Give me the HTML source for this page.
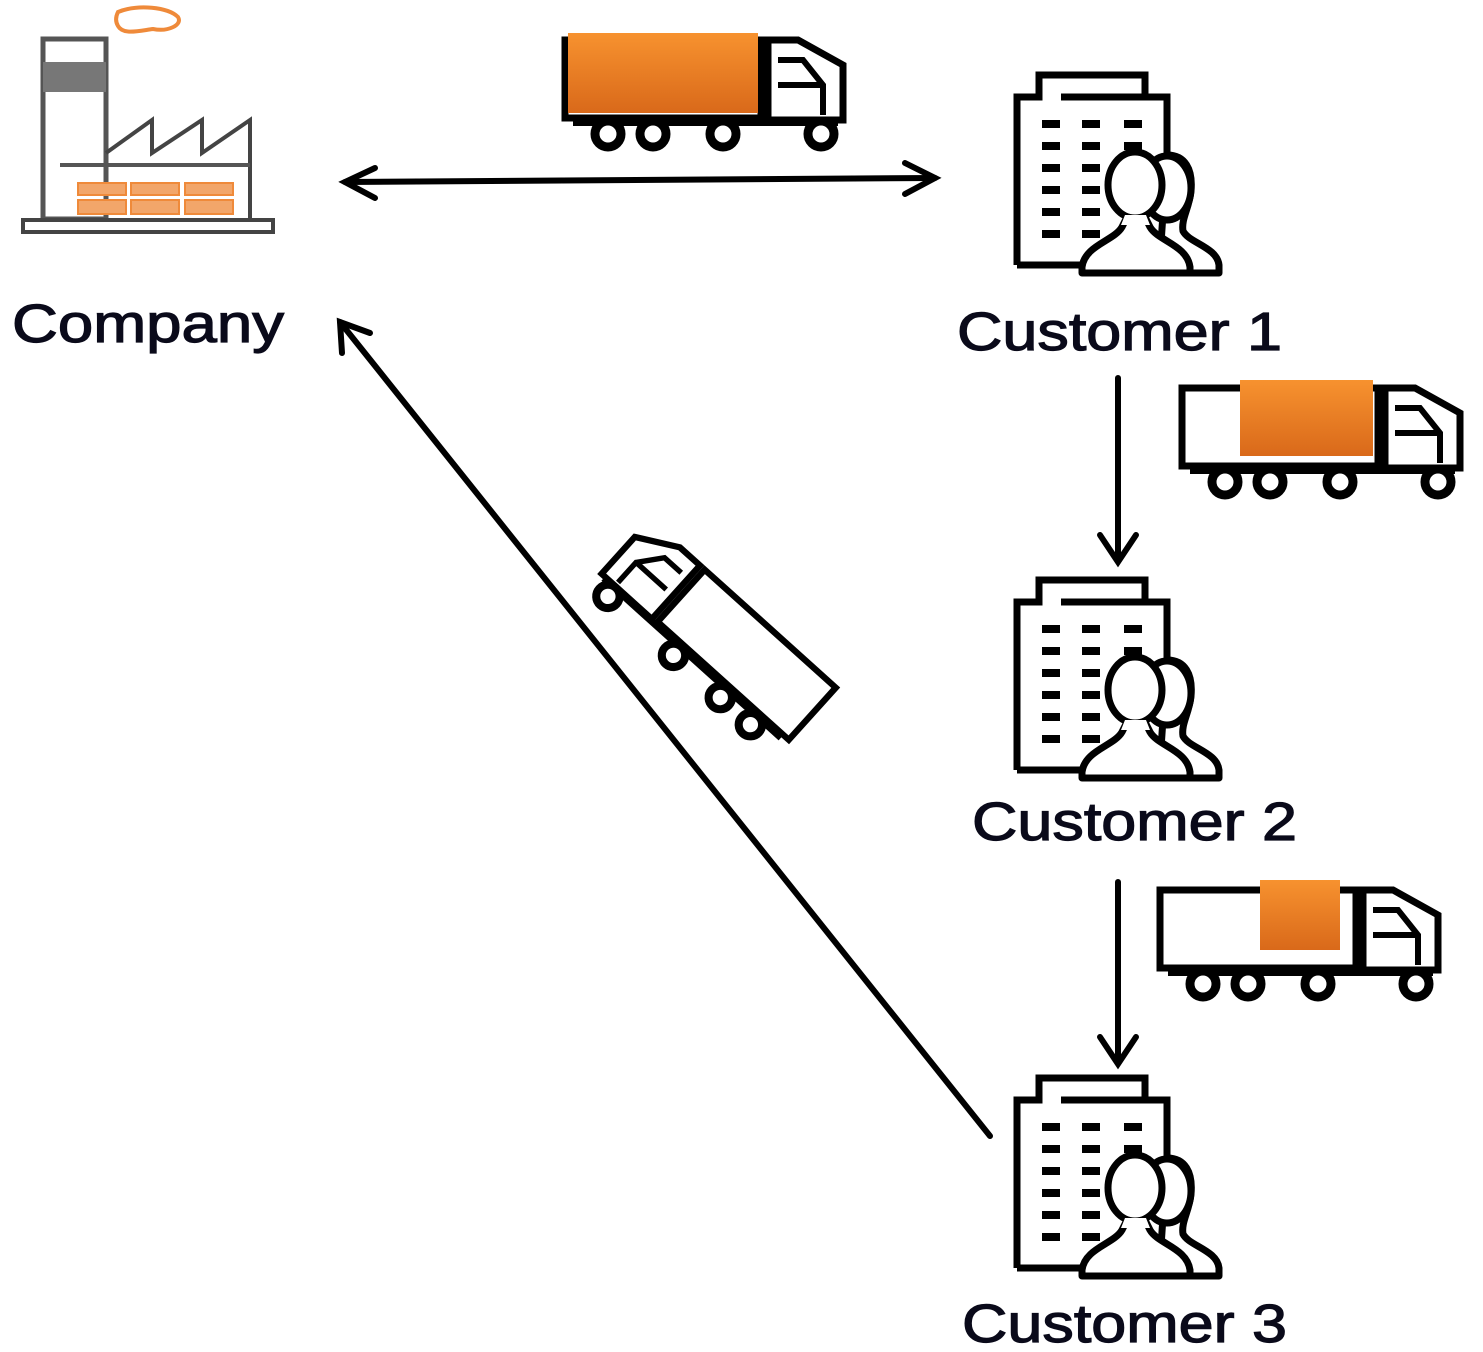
<!DOCTYPE html>
<html><head><style>html,body{margin:0;padding:0;background:#fff}svg{display:block}</style></head><body>
<svg width="1483" height="1352" viewBox="0 0 1483 1352" xmlns="http://www.w3.org/2000/svg">
<defs>
<linearGradient id="og" x1="0" y1="0" x2="0" y2="1"><stop offset="0" stop-color="#f7922f"/><stop offset="1" stop-color="#d9691a"/></linearGradient>
<g id="truckbase">
  <rect x="2" y="10" width="196" height="78" fill="#fff" stroke="#000" stroke-width="7"/>
  <path d="M205 10 h30 l45 25 v55 h-75 z" fill="#fff" stroke="#000" stroke-width="7"/>
  <path d="M215 30 h25 l20 25 v30 M215 55 h45" fill="none" stroke="#000" stroke-width="6"/>
  <rect x="10" y="88" width="265" height="8" fill="#000"/>
  <g fill="#fff" stroke="#000" stroke-width="9">
    <circle cx="45" cy="104" r="13"/><circle cx="90" cy="104" r="13"/><circle cx="160" cy="104" r="13"/><circle cx="258" cy="104" r="13"/>
  </g>
</g>
<g id="cust">
  <path d="M0 190 V22 H22 V0 H128 V22 H150 V175" fill="none" stroke="#000" stroke-width="7"/>
  <path d="M44 22 H128" stroke="#000" stroke-width="7"/>
  <g fill="#000">
    <rect x="25" y="45" width="18" height="8"/><rect x="65" y="45" width="18" height="8"/><rect x="107" y="45" width="18" height="8"/>
    <rect x="25" y="67" width="18" height="8"/><rect x="65" y="67" width="18" height="8"/><rect x="107" y="67" width="18" height="8"/>
    <rect x="25" y="89" width="18" height="8"/><rect x="65" y="89" width="18" height="8"/>
    <rect x="25" y="111" width="18" height="8"/><rect x="65" y="111" width="18" height="8"/>
    <rect x="25" y="133" width="18" height="8"/><rect x="65" y="133" width="18" height="8"/>
    <rect x="25" y="155" width="18" height="8"/><rect x="65" y="155" width="18" height="8"/>
  </g>
  <path d="M0 190 H65" stroke="#000" stroke-width="7"/>
  <g fill="#fff" stroke="#000" stroke-width="7" stroke-linejoin="round">
    <path d="M150 80 c18 0 26 14 24 36 c-2 18 -10 28 -8 40 c6 12 34 16 36 34 v8 h-60 z"/>
    <ellipse cx="150" cy="113" rx="24" ry="32"/>
    <path d="M65 198 v-6 c3 -22 32 -26 40 -40 l4 -8 h20 l4 8 c8 14 37 18 40 40 v6 z"/>
    <ellipse cx="118" cy="110" rx="27" ry="33"/>
    <path d="M108 140 h21 l4 10 h-29 z" stroke="none"/>
  </g>
</g>
</defs>

<!-- factory -->
<g>
  <path d="M118 12 c20 -8 50 -5 60 5 c5 8 -10 15 -25 12 c-15 2 -30 6 -35 -3 c-3 -5 -2 -10 0 -14 z" fill="none" stroke="#ef8a3a" stroke-width="4"/>
  <rect x="43" y="39" width="63" height="180" fill="none" stroke="#555" stroke-width="5"/>
  <rect x="43" y="62" width="63" height="30" fill="#777"/>
  <path d="M106 153 L152 120 V153 L202 120 V153 L250 120 V220" fill="none" stroke="#444" stroke-width="4"/>
  <path d="M60 165 H250" stroke="#555" stroke-width="4"/>
  <g fill="#f2a66a" stroke="#ef8a3a" stroke-width="2">
    <rect x="78" y="183" width="48" height="12"/><rect x="131" y="183" width="48" height="12"/><rect x="185" y="183" width="48" height="12"/>
    <rect x="78" y="200" width="48" height="14"/><rect x="131" y="200" width="48" height="14"/><rect x="185" y="200" width="48" height="14"/>
  </g>
  <rect x="23" y="220" width="250" height="12" fill="#fff" stroke="#444" stroke-width="4"/>
</g>

<!-- trucks -->
<g transform="translate(563,30)"><use href="#truckbase"/><rect x="5" y="3" width="190" height="80" fill="url(#og)"/></g>
<g transform="translate(1180,378)"><use href="#truckbase"/><rect x="60" y="2" width="133" height="76" fill="url(#og)"/></g>
<g transform="translate(1158,880)"><use href="#truckbase"/><rect x="102" y="0" width="80" height="70" fill="url(#og)"/></g>
<g transform="translate(710,635) rotate(42) scale(-0.9,0.9) translate(-145,-60)"><use href="#truckbase"/></g>

<!-- customers -->
<use href="#cust" transform="translate(1017,75)"/>
<use href="#cust" transform="translate(1017,580)"/>
<use href="#cust" transform="translate(1017,1078)"/>

<!-- arrows -->
<g stroke="#000" stroke-width="6" fill="none" stroke-linecap="round">
  <path d="M345 182 L935 178"/>
  <path d="M375 168 L345 182 L375 198"/>
  <path d="M905 163 L935 178 L905 194"/>
  <path d="M1118 378 V560"/>
  <path d="M1100 535 L1118 562 L1136 535"/>
  <path d="M1118 882 V1062"/>
  <path d="M1100 1037 L1118 1064 L1136 1037"/>
  <path d="M990 1136 L340 322"/>
  <path d="M342 353 L340 322 L370 333"/>
</g>

<!-- labels -->
<g font-family="'Liberation Sans', sans-serif" font-size="54" fill="#0a0a1a" stroke="#0a0a1a" stroke-width="1.2">
  <text x="12" y="342" textLength="272" lengthAdjust="spacingAndGlyphs">Company</text>
  <text x="957" y="350" textLength="325" lengthAdjust="spacingAndGlyphs">Customer 1</text>
  <text x="972" y="840" textLength="325" lengthAdjust="spacingAndGlyphs">Customer 2</text>
  <text x="962" y="1342" textLength="325" lengthAdjust="spacingAndGlyphs">Customer 3</text>
</g>
</svg>
</body></html>
